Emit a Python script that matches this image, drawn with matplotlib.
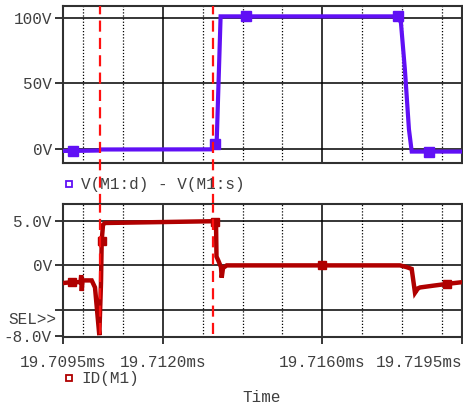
import matplotlib
matplotlib.use("Agg")
import matplotlib.pyplot as plt
from matplotlib.lines import Line2D

# time in ms
vds_t = [19.70950, 19.70974, 19.71040, 19.71045, 19.71323, 19.71331, 19.71335,
         19.71345, 19.71408, 19.71790, 19.71797, 19.71807, 19.71817, 19.71824,
         19.71868, 19.71950]
vds_v = [-1.5, -1.5, -1.2, -0.4, -0.3, 3.5, 3.5,
         101.0, 101.0, 101.0, 96.0, 60.0, 15.0, -2.0,
         -2.0, -2.0]
vds_mark_t = [19.70974, 19.71331, 19.71408, 19.71790, 19.71868]
vds_mark_v = [-1.5, 3.5, 101.0, 101.0, -2.0]

id_t = [19.709500, 19.709718, 19.709939, 19.709956, 19.709971, 19.709989,
        19.710094, 19.710219, 19.710302, 19.710352, 19.710410, 19.710452,
        19.710470, 19.710503, 19.710553, 19.713259, 19.713310, 19.713335,
        19.713347, 19.713397, 19.713460, 19.713477, 19.713510, 19.713603,
        19.715984, 19.717946, 19.718114, 19.718239, 19.718322, 19.718397,
        19.718447, 19.718773, 19.719117, 19.719500]
id_v = [-2.0, -1.9, -1.9, -1.1, -2.9, -1.7,
        -1.7, -1.7, -2.5, -5.0, -7.9, -2.0,
        2.8, 4.6, 4.8, 5.0, 4.9, 4.8,
        1.0, 0.5, -0.2, -1.4, -0.3, 0.0,
        0.0, 0.0, -0.2, -0.4, -3.1, -2.6,
        -2.5, -2.3, -2.1, -1.9]
id_mark_t = [19.709718, 19.710470, 19.713310, 19.715984, 19.719117]
id_mark_v = [-1.9, 2.8, 4.9, 0.0, -2.1]

cursor_t = [19.710427, 19.713252]

x_ticks = [19.7095, 19.7120, 19.7160, 19.7195]
x_labels = ["19.7095ms", "19.7120ms", "19.7160ms", "19.7195ms"]
x_minor = [19.710, 19.711, 19.713, 19.714, 19.715, 19.717, 19.718, 19.719]
top_yticks = [0, 50, 100]
top_ylabels = ["0V", "50V", "100V"]
bot_yticks = [-8, -5, 0, 5]
bot_ylabels = ["-8.0V", "", "0V", "5.0V"]

font = "Liberation Mono"
txt_col = "#404040"
purple = "#6010F5"
dred = "#B00000"
frame_col = "#303030"

fig = plt.figure(figsize=(4.63, 4.05), dpi=100)
ax1 = fig.add_axes([63 / 463, 1 - 163 / 405, 399 / 463, 157 / 405])
ax2 = fig.add_axes([63 / 463, 1 - 336.5 / 405, 399 / 463, 132.5 / 405])

for ax in (ax1, ax2):
    ax.set_xlim(19.7095, 19.7195)
    for s in ax.spines.values():
        s.set_color(frame_col)
        s.set_linewidth(1.5)
    for xm in x_minor:
        ax.axvline(xm, color="black", lw=0.9, ls=(0, (1, 1.5)), zorder=1)
    for xj in x_ticks[1:3]:
        ax.axvline(xj, color="black", lw=1.1, zorder=1)

ax1.set_ylim(-10.7, 108.9)
for yv in top_yticks:
    ax1.axhline(yv, color="black", lw=1.1, zorder=1)
ax1.set_yticks(top_yticks)
ax1.set_yticklabels(top_ylabels, family=font, fontsize=11.5, color=txt_col)
ax1.set_xticks([])
ax1.tick_params(axis="y", length=6, width=1.1, pad=2, color="black")

ax2.set_ylim(-8.05, 6.95)
for yv in bot_yticks[1:]:
    ax2.axhline(yv, color="black", lw=1.1, zorder=1)
ax2.set_yticks(bot_yticks)
ax2.set_yticklabels(bot_ylabels, family=font, fontsize=11.5, color=txt_col)
ax2.set_xticks(x_ticks)
ax2.set_xticklabels(x_labels, family=font, fontsize=11.5, color=txt_col)
ax2.get_xticklabels()[-1].set_ha("right")
ax2.tick_params(axis="y", length=6, width=1.1, pad=2, color="black")
ax2.tick_params(axis="x", length=5, width=1.1, pad=8, color="black")

ax1.plot(vds_t, vds_v, color=purple, lw=3.0, zorder=3, solid_joinstyle="miter")
ax1.plot(vds_mark_t, vds_mark_v, ls="none", marker="s", ms=6.5, color=purple, zorder=4)
ax2.plot(id_t, id_v, color=dred, lw=3.2, zorder=3, solid_joinstyle="miter")
ax2.plot(id_mark_t, id_mark_v, ls="none", marker="s", ms=6, color=dred, zorder=4)

for ct in cursor_t:
    ax1.axvline(ct, ymin=-0.27, ymax=1, color="#FF1010", lw=1.6,
                ls=(0, (5, 2.8)), clip_on=False, zorder=5)
    ax2.axvline(ct, ymin=0.02, ymax=1, color="#FF1010", lw=1.6,
                ls=(0, (5, 2.8)), clip_on=False, zorder=5)

# legends
fig.add_artist(Line2D([69 / 463], [1 - 184.5 / 405], marker="s", ms=5, mfc="white",
                      mec=purple, mew=1.3, ls="none"))
fig.text(81 / 463, 1 - 185 / 405, "V(M1:d) - V(M1:s)", family=font, fontsize=11.5,
         color=txt_col, va="center", ha="left")
fig.add_artist(Line2D([69 / 463], [1 - 377.7 / 405], marker="s", ms=5, mfc="white",
                      mec=dred, mew=1.3, ls="none"))
fig.text(81 / 463, 1 - 378.5 / 405, "ID(M1)", family=font, fontsize=11.5,
         color=txt_col, va="center", ha="left")

fig.text(57 / 463, 1 - 319 / 405, "SEL>>", family=font, fontsize=11.5,
         color=txt_col, va="center", ha="right")
fig.text(262 / 463, 1 - 398 / 405, "Time", family=font, fontsize=11.5,
         color=txt_col, va="center", ha="center")

fig.savefig("out.png", dpi=100)
